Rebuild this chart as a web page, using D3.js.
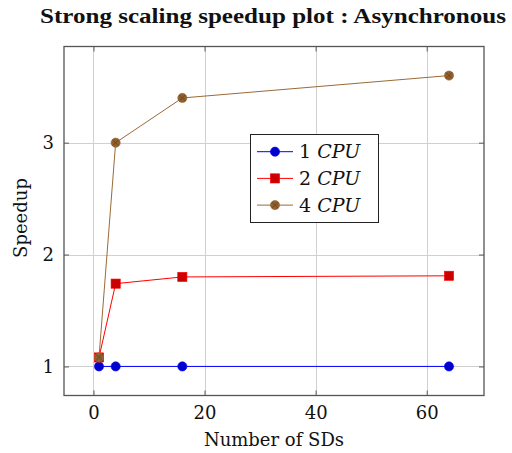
<!DOCTYPE html>
<html><head><meta charset="utf-8">
<script src="https://cdn.jsdelivr.net/npm/d3@7"></script>
<style>body{margin:0;background:#fff}svg{display:block}</style>
</head><body><svg id="c" width="512" height="453" font-family="DejaVu Serif, serif"></svg>
<script>
const title = "Strong scaling speedup plot : Asynchronous";
const xLabel = "Number of SDs";
const yLabel = "Speedup";
const sds = [1, 4, 16, 64];
const cpu1 = [1, 1, 1, 1];
const cpu2 = [1.08, 1.74, 1.80, 1.81];
const cpu4 = [1.08, 3.0, 3.4, 3.6];
const seriesNames = ["1", "2", "4"];
const xTicks = [0, 20, 40, 60];
const yTicks = [1, 2, 3];

const series = [
  {name: seriesNames[0], values: cpu1, line: "#0000ff", fill: "#0000cc", mark: "circle"},
  {name: seriesNames[1], values: cpu2, line: "#ff0000", fill: "#cc0000", mark: "square"},
  {name: seriesNames[2], values: cpu4, line: "#9a6a38", fill: "#8f5f30", mark: "otimes"}
];

const svg = d3.select("#c");
const L = 64, R = 484, T = 46.5, B = 395.5;
const x = d3.scaleLinear().domain([-5.3, 70.3]).range([L, R]);
const y = d3.scaleLinear().domain([0.74, 3.86]).range([B, T]);

// grid
const g = svg.append("g");
g.selectAll(".gx").data(xTicks).join("line")
  .attr("x1", d => Math.round(x(d)) + 0.5).attr("x2", d => Math.round(x(d)) + 0.5)
  .attr("y1", T).attr("y2", B).attr("stroke", "#d0d0d0").attr("stroke-width", 1);
g.selectAll(".gy").data(yTicks).join("line")
  .attr("y1", d => Math.round(y(d)) + 0.5).attr("y2", d => Math.round(y(d)) + 0.5)
  .attr("x1", L).attr("x2", R).attr("stroke", "#d0d0d0").attr("stroke-width", 1);

// axes with inward ticks
const tl = 5;
const axB = svg.append("g").attr("transform", `translate(0,${B})`)
  .call(d3.axisBottom(x).tickValues(xTicks).tickFormat(d3.format("d")).tickSizeInner(-tl).tickSizeOuter(0).tickPadding(11));
const axT = svg.append("g").attr("transform", `translate(0,${T})`)
  .call(d3.axisTop(x).tickValues(xTicks).tickSizeInner(-tl).tickSizeOuter(0).tickFormat(""));
const axL = svg.append("g").attr("transform", `translate(${L},0)`)
  .call(d3.axisLeft(y).tickValues(yTicks).tickFormat(d3.format("d")).tickSizeInner(-tl).tickSizeOuter(0).tickPadding(10));
const axR = svg.append("g").attr("transform", `translate(${R},0)`)
  .call(d3.axisRight(y).tickValues(yTicks).tickSizeInner(-tl).tickSizeOuter(0).tickFormat(""));
[axB, axT, axL, axR].forEach(a => {
  a.select(".domain").remove();
  a.attr("font-family", "DejaVu Serif, serif").attr("font-size", 18);
  a.selectAll(".tick line").attr("stroke", "#707070").attr("stroke-width", 1.2);
  a.selectAll(".tick text").attr("fill", "#111");
});

// frame
svg.append("rect").attr("x", L).attr("y", T).attr("width", R - L).attr("height", B - T)
  .attr("fill", "none").attr("stroke", "#555").attr("stroke-width", 1.3);

// lines and marks
function drawMark(sel, s, cx, cy) {
  if (s.mark === "circle") {
    sel.append("circle").attr("cx", cx).attr("cy", cy).attr("r", 4.6)
      .attr("fill", s.fill).attr("stroke", s.line).attr("stroke-width", 0.6);
  } else if (s.mark === "square") {
    sel.append("rect").attr("x", cx - 4.6).attr("y", cy - 4.6).attr("width", 9.2).attr("height", 9.2)
      .attr("fill", s.fill).attr("stroke", s.line).attr("stroke-width", 0.6);
  } else {
    sel.append("circle").attr("cx", cx).attr("cy", cy).attr("r", 4.6)
      .attr("fill", s.fill).attr("stroke", s.line).attr("stroke-width", 0.6);
    const k = 3.0;
    sel.append("path").attr("d", `M${cx-k},${cy-k}L${cx+k},${cy+k}M${cx-k},${cy+k}L${cx+k},${cy-k}`)
      .attr("stroke", "#5a3a18").attr("stroke-width", 0.6);
  }
}
const line = d3.line().x(d => x(d[0])).y(d => y(d[1]));
series.forEach(s => {
  const pts = sds.map((v, i) => [v, s.values[i]]);
  svg.append("path").datum(pts).attr("d", line).attr("fill", "none")
    .attr("stroke", s.line).attr("stroke-width", 1);
  const mg = svg.append("g");
  pts.forEach(p => drawMark(mg, s, x(p[0]), y(p[1])));
});

// legend
const lg = svg.append("g");
lg.append("rect").attr("x", 250.5).attr("y", 134.5).attr("width", 128).attr("height", 88)
  .attr("fill", "#fff").attr("stroke", "#222").attr("stroke-width", 1);
series.forEach((s, i) => {
  const cy = 151.7 + i * 26.7;
  lg.append("line").attr("x1", 257).attr("x2", 293).attr("y1", cy).attr("y2", cy)
    .attr("stroke", s.line).attr("stroke-width", 1);
  drawMark(lg, s, 275, cy);
  const t = lg.append("text").attr("x", 299).attr("y", cy + 6.5).attr("font-size", 19).attr("fill", "#111");
  t.append("tspan").text(s.name + " ");
  t.append("tspan").attr("font-style", "italic").text("CPU");
});

// title and labels
svg.append("text").attr("x", 273).attr("y", 23).attr("text-anchor", "middle")
  .style("font-family", "'Liberation Serif', serif").attr("font-size", 22).attr("font-weight", "bold").attr("fill", "#111")
  .attr("textLength", 466).attr("lengthAdjust", "spacingAndGlyphs").text(title);
svg.append("text").attr("x", 274).attr("y", 446).attr("text-anchor", "middle")
  .attr("font-size", 18).attr("fill", "#111").text(xLabel);
svg.append("text").attr("transform", "translate(27,218) rotate(-90)").attr("text-anchor", "middle")
  .attr("font-size", 18).attr("fill", "#111").text(yLabel);
</script></body></html>
